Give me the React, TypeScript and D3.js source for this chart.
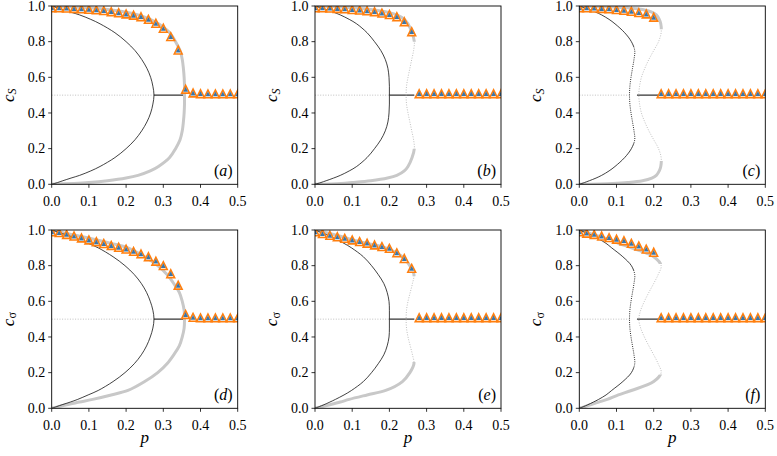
import React from 'react';
import * as d3 from 'd3';

// c levels shared by every curve (each curve gives p at these c values)
const cLevels = [0, 0.005, 0.01, 0.02, 0.035, 0.05, 0.075, 0.1, 0.15, 0.2, 0.25, 0.3, 0.35, 0.4, 0.45, 0.5,
  0.55, 0.6, 0.65, 0.7, 0.75, 0.8, 0.85, 0.9, 0.925, 0.95, 0.965, 0.98, 0.99, 0.995, 1];

// black (mean-field) curves, p at each c level
const blackA = [0, 0.008, 0.016, 0.03, 0.052, 0.075, 0.105, 0.13, 0.17, 0.2, 0.224, 0.242, 0.256, 0.266, 0.272, 0.275,
  0.272, 0.266, 0.256, 0.242, 0.224, 0.2, 0.17, 0.13, 0.105, 0.075, 0.052, 0.03, 0.016, 0.008, 0];
const blackB = [0, 0.008, 0.016, 0.03, 0.05, 0.068, 0.092, 0.112, 0.14, 0.16, 0.177, 0.189, 0.196, 0.199, 0.2, 0.2,
  0.2, 0.199, 0.196, 0.189, 0.177, 0.16, 0.14, 0.112, 0.092, 0.068, 0.05, 0.03, 0.016, 0.008, 0];
const blackC = [0, 0.007, 0.014, 0.027, 0.045, 0.06, 0.08, 0.096, 0.122, 0.14, 0.149, 0.147, 0.143, 0.139, 0.136, 0.135,
  0.136, 0.139, 0.143, 0.147, 0.149, 0.14, 0.122, 0.096, 0.08, 0.06, 0.045, 0.027, 0.014, 0.007, 0];
const blackD = [0, 0.007, 0.014, 0.028, 0.05, 0.07, 0.098, 0.125, 0.165, 0.197, 0.222, 0.241, 0.255, 0.265, 0.272, 0.275,
  0.272, 0.265, 0.255, 0.241, 0.222, 0.197, 0.165, 0.125, 0.098, 0.07, 0.05, 0.028, 0.014, 0.007, 0];
const blackE = [0, 0.006, 0.012, 0.024, 0.04, 0.055, 0.078, 0.098, 0.13, 0.152, 0.17, 0.185, 0.194, 0.199, 0.2, 0.2,
  0.2, 0.199, 0.194, 0.185, 0.17, 0.152, 0.13, 0.098, 0.078, 0.055, 0.04, 0.024, 0.012, 0.006, 0];
const blackF = [0, 0.006, 0.012, 0.023, 0.038, 0.052, 0.072, 0.087, 0.117, 0.14, 0.149, 0.147, 0.143, 0.139, 0.136, 0.135,
  0.136, 0.139, 0.143, 0.147, 0.149, 0.14, 0.117, 0.087, 0.072, 0.052, 0.038, 0.023, 0.012, 0.006, 0];

// gray (pair approximation) curves, p at each c level
const grayA = [0, 0.06, 0.1, 0.15, 0.2, 0.232, 0.265, 0.287, 0.317, 0.333, 0.345, 0.351, 0.354, 0.356, 0.357, 0.357,
  0.357, 0.356, 0.354, 0.351, 0.345, 0.333, 0.317, 0.287, 0.265, 0.232, 0.2, 0.15, 0.1, 0.06, 0];
const grayB = [0, 0.07, 0.1, 0.15, 0.195, 0.22, 0.24, 0.25, 0.261, 0.267, 0.265, 0.26, 0.255, 0.25, 0.246, 0.245,
  0.246, 0.25, 0.255, 0.26, 0.265, 0.267, 0.261, 0.25, 0.24, 0.22, 0.195, 0.15, 0.1, 0.07, 0];
const grayC = [0, 0.09, 0.13, 0.17, 0.195, 0.207, 0.215, 0.219, 0.22, 0.213, 0.2, 0.187, 0.176, 0.167, 0.162, 0.16,
  0.162, 0.167, 0.176, 0.187, 0.2, 0.213, 0.22, 0.219, 0.215, 0.207, 0.195, 0.17, 0.13, 0.09, 0];
const grayD = [0, 0.01, 0.02, 0.04, 0.075, 0.11, 0.16, 0.205, 0.25, 0.285, 0.31, 0.328, 0.343, 0.351, 0.356, 0.357,
  0.356, 0.351, 0.343, 0.328, 0.31, 0.285, 0.25, 0.205, 0.16, 0.11, 0.075, 0.04, 0.02, 0.01, 0];
const grayE = [0, 0.01, 0.02, 0.04, 0.068, 0.092, 0.14, 0.19, 0.235, 0.255, 0.266, 0.262, 0.256, 0.25, 0.246, 0.245,
  0.246, 0.25, 0.256, 0.262, 0.266, 0.255, 0.235, 0.19, 0.14, 0.092, 0.068, 0.04, 0.02, 0.01, 0];
const grayF = [0, 0.008, 0.016, 0.03, 0.052, 0.075, 0.105, 0.14, 0.2, 0.22, 0.212, 0.2, 0.187, 0.175, 0.165, 0.16,
  0.165, 0.175, 0.187, 0.2, 0.212, 0.22, 0.2, 0.14, 0.105, 0.075, 0.052, 0.03, 0.016, 0.008, 0];

// c range where each curve is unstable (drawn dotted)
const blackLo = [0.5, 0.5, 0.23, 0.5, 0.5, 0.23];
const blackHi = [0.5, 0.5, 0.77, 0.5, 0.5, 0.77];
const grayLo = [0.5, 0.2, 0.13, 0.5, 0.26, 0.19];
const grayHi = [0.5, 0.8, 0.87, 0.5, 0.74, 0.81];

// the c = 1/2 branch
const midDotEnd = [0.275, 0.2, 0.135, 0.275, 0.2, 0.135];
const midSolidStart = [0.275, 0.2, 0.155, 0.275, 0.2, 0.155];
const midSolidEnd = [0.357, 0.267, 0.212, 0.357, 0.267, 0.212];

// simulation markers
const markerP = [0, 0.02, 0.04, 0.06, 0.08, 0.1, 0.12, 0.14, 0.16, 0.18, 0.2, 0.22, 0.24, 0.26, 0.28, 0.3,
  0.32, 0.34, 0.36, 0.38, 0.4, 0.42, 0.44, 0.46, 0.48, 0.5];
const simA = [0.99, 0.99, 0.988, 0.986, 0.984, 0.981, 0.978, 0.974, 0.968, 0.962, 0.955, 0.948, 0.94, 0.925, 0.903, 0.875,
  0.828, 0.753, 0.533, 0.512, 0.508, 0.507, 0.507, 0.507, 0.507, 0.507];
const simB = [0.99, 0.99, 0.988, 0.986, 0.984, 0.98, 0.977, 0.973, 0.968, 0.96, 0.952, 0.94, 0.912, 0.856, 0.508, 0.508,
  0.508, 0.508, 0.508, 0.508, 0.508, 0.508, 0.508, 0.508, 0.508, 0.508];
const simC = [0.99, 0.99, 0.988, 0.986, 0.984, 0.98, 0.976, 0.97, 0.963, 0.955, 0.937, 0.508, 0.508, 0.508, 0.508, 0.508,
  0.508, 0.508, 0.508, 0.508, 0.508, 0.508, 0.508, 0.508, 0.508, 0.508];
const simD = [0.99, 0.985, 0.975, 0.966, 0.955, 0.944, 0.934, 0.924, 0.913, 0.903, 0.893, 0.88, 0.866, 0.85, 0.825, 0.8,
  0.755, 0.69, 0.526, 0.51, 0.507, 0.507, 0.507, 0.507, 0.507, 0.507];
const simE = [0.99, 0.98, 0.97, 0.962, 0.953, 0.944, 0.935, 0.926, 0.916, 0.907, 0.897, 0.872, 0.84, 0.785, 0.508, 0.508,
  0.508, 0.508, 0.508, 0.508, 0.508, 0.508, 0.508, 0.508, 0.508, 0.508];
const simF = [0.99, 0.982, 0.975, 0.966, 0.957, 0.948, 0.94, 0.925, 0.91, 0.893, 0.875, 0.508, 0.508, 0.508, 0.508, 0.508,
  0.508, 0.508, 0.508, 0.508, 0.508, 0.508, 0.508, 0.508, 0.508, 0.508];

const panelTags = ['a', 'b', 'c', 'd', 'e', 'f'];
const yNames = ['S', 'S', 'S', '\u03c3', '\u03c3', '\u03c3'];
const xTicks = [0, 0.1, 0.2, 0.3, 0.4, 0.5];
const yTicks = [0, 0.2, 0.4, 0.6, 0.8, 1.0];

const blackCurves = [blackA, blackB, blackC, blackD, blackE, blackF];
const grayCurves = [grayA, grayB, grayC, grayD, grayE, grayF];
const simCurves = [simA, simB, simC, simD, simE, simF];

const W = 777;
const H = 456;
const colX = [51.7, 315, 579.3];
const rowY = [6, 230];
const pw = 186;
const ph = 178.3;
const serifStyle = { fontFamily: "'Liberation Serif', 'DejaVu Serif', serif" };

const tri = (m: number) => `M0,${-m / 2}L${-m / 2},${m / 2}L${m / 2},${m / 2}Z`;

function Panel({ i }: { i: number }) {
  const x = d3.scaleLinear().domain([0, 0.5]).range([0, pw]);
  const y = d3.scaleLinear().domain([0, 1]).range([ph, 0]);
  const line = d3.line<[number, number]>()
    .x(d => x(d[0]))
    .y(d => y(d[1]))
    .curve(d3.curveCatmullRom);

  const blackPts = cLevels.map((c, k) => [blackCurves[i][k], c] as [number, number]);
  const grayPts = cLevels.map((c, k) => [grayCurves[i][k], c] as [number, number]);
  const sims = markerP.map((p, k) => [p, simCurves[i][k]] as [number, number]);

  const id = `pn${i}`;
  const solidClip = (lo: number, hi: number) => (
    <>
      <rect x={-5} y={y(lo)} width={pw + 10} height={ph - y(lo) + 5} />
      <rect x={-5} y={-5} width={pw + 10} height={y(hi) + 5} />
    </>
  );
  const dotClip = (lo: number, hi: number) => (
    <rect x={-5} y={y(hi)} width={pw + 10} height={Math.max(0, y(lo) - y(hi))} />
  );

  const col = i % 3;
  const row = Math.floor(i / 3);

  return (
    <g transform={`translate(${colX[col]},${rowY[row]})`}>
      <defs>
        <clipPath id={`${id}-ax`}><rect x={0} y={0} width={pw} height={ph} /></clipPath>
        <clipPath id={`${id}-bs`}>{solidClip(blackLo[i], blackHi[i])}</clipPath>
        <clipPath id={`${id}-bd`}>{dotClip(blackLo[i], blackHi[i])}</clipPath>
        <clipPath id={`${id}-gs`}>{solidClip(grayLo[i], grayHi[i])}</clipPath>
        <clipPath id={`${id}-gd`}>{dotClip(grayLo[i], grayHi[i])}</clipPath>
      </defs>

      <g clipPath={`url(#${id}-ax)`}>
        <line x1={x(0)} x2={x(midDotEnd[i])} y1={y(0.5)} y2={y(0.5)}
          stroke="#b0b0b0" strokeWidth={0.8} strokeDasharray="1 1.6" />
        <line x1={x(midSolidStart[i])} x2={x(midSolidEnd[i])} y1={y(0.5)} y2={y(0.5)}
          stroke="#333" strokeWidth={1.1} />

        <path d={line(grayPts) || ''} fill="none" stroke="#c8c8c8" strokeWidth={3}
          clipPath={`url(#${id}-gs)`} />
        {grayLo[i] < grayHi[i] && (
          <path d={line(grayPts) || ''} fill="none" stroke="#b8b8b8" strokeWidth={0.9}
            strokeDasharray="1 1.5" clipPath={`url(#${id}-gd)`} />
        )}
        <path d={line(blackPts) || ''} fill="none" stroke="#111" strokeWidth={0.8}
          clipPath={`url(#${id}-bs)`} />
        {blackLo[i] < blackHi[i] && (
          <path d={line(blackPts) || ''} fill="none" stroke="#111" strokeWidth={0.9}
            strokeDasharray="1 1.2" clipPath={`url(#${id}-bd)`} />
        )}

        {sims.map((d, k) => (
          <g key={k} transform={`translate(${x(d[0])},${y(d[1])})`}>
            <path d={tri(7.8)} fill="#fff" stroke="#ff7f0e" strokeWidth={1.6} strokeLinejoin="miter" />
            <path d={tri(4.8)} fill="#3b76a8" />
          </g>
        ))}
      </g>

      {/* axes frame */}
      <rect x={0} y={0} width={pw} height={ph} fill="none" stroke="#000" strokeWidth={0.9} />

      {xTicks.map(t => (
        <g key={`x${t}`} transform={`translate(${x(t)},${ph})`}>
          <line y1={0} y2={3.5} stroke="#000" strokeWidth={0.8} />
          <text y={21.5} textAnchor="middle" style={serifStyle} fontSize={14} fill="#000">
            {t.toFixed(1)}
          </text>
        </g>
      ))}
      {yTicks.map(t => (
        <g key={`y${t}`} transform={`translate(0,${y(t)})`}>
          <line x1={0} x2={-3.5} stroke="#000" strokeWidth={0.8} />
          <text x={-6.5} dy="0.34em" textAnchor="end" style={serifStyle} fontSize={14} fill="#000">
            {t.toFixed(1)}
          </text>
        </g>
      ))}

      <text transform={`translate(-38,${ph / 2}) rotate(-90)`} textAnchor="middle"
        style={serifStyle} fontSize={17} fill="#000">
        <tspan fontStyle="italic">c</tspan>
        <tspan fontSize={12} fontStyle={yNames[i] === 'S' ? 'italic' : 'normal'} dy={2.5}>{yNames[i]}</tspan>
      </text>

      {row === 1 && (
        <text x={pw / 2} y={ph + 35} textAnchor="middle" style={serifStyle} fontSize={17}
          fontStyle="italic" fill="#000">p</text>
      )}

      <text x={pw - 5} y={ph - 8} textAnchor="end" style={serifStyle} fontSize={16} fill="#000">
        (<tspan fontStyle="italic">{panelTags[i]}</tspan>)
      </text>
    </g>
  );
}

export default function App() {
  return (
    <div style={{ position: 'absolute', left: 0, top: 0 }}>
      <svg width={W} height={H} style={{ display: 'block', background: '#fff' }}>
        {[0, 1, 2, 3, 4, 5].map(i => <Panel key={i} i={i} />)}
      </svg>
    </div>
  );
}
